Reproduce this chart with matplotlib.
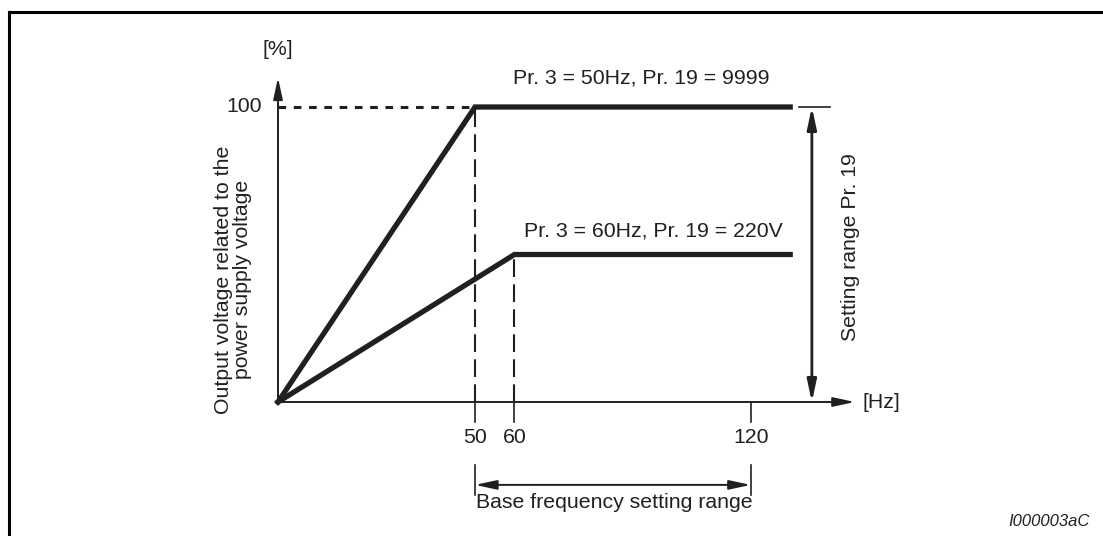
import matplotlib
matplotlib.use('Agg')
import matplotlib.pyplot as plt
from matplotlib.lines import Line2D

plt.rcParams['font.family'] = ['Liberation Sans', 'DejaVu Sans']

# ────────────────────────────────────────────────────────────────────────────────
# data (Hz / % of supply voltage)
freq_50 = [0, 50, 130]
volt_50 = [0, 100, 100]
freq_60 = [0, 60, 130]
volt_60 = [0, 50, 50]
tick_freqs = [50, 60, 120]
tick_labels = ['50', '60', '120']
label_50 = 'Pr. 3 = 50Hz, Pr. 19 = 9999'
label_60 = 'Pr. 3 = 60Hz, Pr. 19 = 220V'
base_range = [50, 120]
setting_range = [0, 100]
setting_x = 135.5

INK = '#231f20'
FS = 15.3

# ────────────────────────────────────────────────────────────────────────────────
W, H = 1103, 536
fig = plt.figure(figsize=(W / 100, H / 100), dpi=100)
# origin at px (278, 402), 3.94 px/Hz, 2.95 px/%
x0, y0 = 278, 402
xmax, ymax = 146.4, 100
ax = fig.add_axes([x0 / W, (H - y0) / H, xmax * 3.94 / W, ymax * 2.95 / H])
ax.set_xlim(0, xmax)
ax.set_ylim(0, ymax)
ax.axis('off')

# frame (top + left edge)
fig.add_artist(Line2D([9 / W, 9 / W], [0, 1 - 12 / H], color='black', lw=2.2, transform=fig.transFigure))
fig.add_artist(Line2D([9 / W, 1], [1 - 12 / H, 1 - 12 / H], color='black', lw=2.2, transform=fig.transFigure))

head = 'head_length=1.3,head_width=0.28'
arrow = dict(arrowstyle='-|>,' + head, color=INK, lw=1.4, shrinkA=0, shrinkB=0)

# axes arrows
ax.annotate('', xy=(xmax, 0), xytext=(0, 0), arrowprops=arrow, annotation_clip=False)
ax.annotate('', xy=(0, 110), xytext=(0, 0), arrowprops=arrow, annotation_clip=False)
ax.text(0, 119.5, '[%]', ha='center', va='center', fontsize=FS, color=INK, clip_on=False)
ax.text(xmax + 2, 0, '[Hz]', ha='left', va='center', fontsize=FS, color=INK, clip_on=False)
ax.text(-4, 100, '100', ha='right', va='center', fontsize=FS, color=INK, clip_on=False)

# ticks under x axis
for f, lab in zip(tick_freqs, tick_labels):
    ax.plot([f, f], [0, -6.8], color=INK, lw=1.2, clip_on=False)
    ax.text(f, -12.2, lab, ha='center', va='center', fontsize=FS, color=INK, clip_on=False)

# helper dashes
ax.plot([0, freq_50[1]], [100, 100], color=INK, lw=2.2, dashes=(2.5, 2.5), clip_on=False)
ax.plot([freq_50[1], freq_50[1]], [0, 100], color=INK, lw=1.5, dashes=(8.5, 3.5), clip_on=False)
ax.plot([freq_60[1], freq_60[1]], [0, volt_60[1]], color=INK, lw=1.5, dashes=(8.5, 3.5), clip_on=False)

# V/f curves
ax.plot(freq_50, volt_50, color=INK, lw=3.8, solid_joinstyle='miter', clip_on=False)
ax.plot(freq_60, volt_60, color=INK, lw=3.8, solid_joinstyle='miter', clip_on=False)
ax.text(92.3, 110, label_50, ha='center', va='center', fontsize=FS, color=INK, clip_on=False)
ax.text(95.3, 58, label_60, ha='center', va='center', fontsize=FS, color=INK, clip_on=False)

# setting range Pr. 19
ax.plot([132.3, 140.1], [100, 100], color=INK, lw=1.2, clip_on=False)
ax.annotate('', xy=(setting_x, setting_range[1]), xytext=(setting_x, setting_range[0]),
            arrowprops=dict(arrowstyle='<|-|>,' + head, color=INK, lw=2,
                            shrinkA=0, shrinkB=0), annotation_clip=False)
ax.text(145.2, 52.5, 'Setting range Pr. 19', rotation=90, ha='center', va='center',
        fontsize=FS, color=INK, clip_on=False)

# y label
ax.text(-11.5, 41.4, 'Output voltage related to the\npower supply voltage', rotation=90,
        ha='center', va='center', fontsize=FS, color=INK, linespacing=1.0, clip_on=False)

# base frequency setting range
for f in base_range:
    ax.plot([f, f], [-21.4, -31.5], color=INK, lw=1.2, clip_on=False)
ax.annotate('', xy=(base_range[0], -28.1), xytext=(base_range[1], -28.1),
            arrowprops=dict(arrowstyle='<|-|>,' + head, color=INK, lw=1.4,
                            shrinkA=0, shrinkB=0), annotation_clip=False)
ax.text(base_range[0] + 0.3, -34.2, 'Base frequency setting range', ha='left', va='center',
        fontsize=FS, color=INK, clip_on=False)

fig.text(1090 / W, 1 - 521 / H, 'I000003aC', ha='right', va='center', fontsize=12,
         style='italic', color=INK)

plt.savefig('out.png', dpi=100)
